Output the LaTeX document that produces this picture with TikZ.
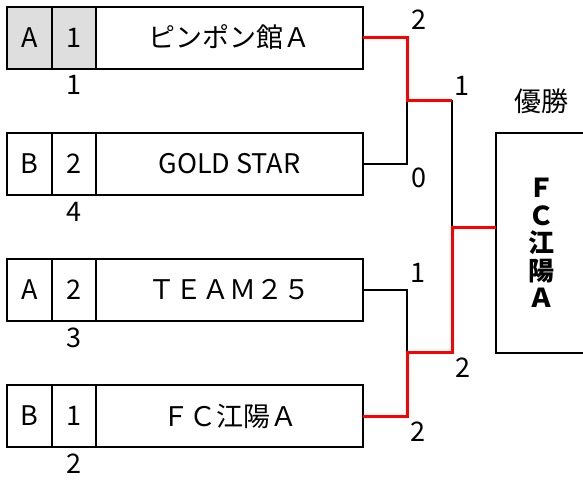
\documentclass[tikz,border=0pt]{standalone}
\usepackage{fontspec}
\setmainfont{Noto Sans CJK JP}
\usetikzlibrary{positioning}

\begin{document}
\begin{tikzpicture}[x=1pt,y=-1pt,line width=2pt,
  every node/.style={font=\fontsize{27}{28}\selectfont,inner sep=0pt,outer sep=0pt},
  cell/.style={draw,minimum height=62pt},
  win/.style={red,line width=3pt}]
\useasboundingbox (0,0) rectangle (583,479);

\foreach \y/\g/\s/\t/\r/\f [count=\i] in
  {37.5/A/1/ピンポン館Ａ/1/black!13,
   164/B/2/GOLD STAR/4/white,
   289.5/A/2/ＴＥＡＭ２５/3/white,
   416/B/1/ＦＣ江陽Ａ/2/white}
{
  \node (g\i) [cell,fill=\f,minimum width=45pt] at (29.5,\y) {\g};
  \node (s\i) [cell,fill=\f,minimum width=44pt,right=0pt of g\i] {\s};
  \node (t\i) [cell,minimum width=267pt,right=0pt of s\i] {\t};
  \node (r\i) [below=7pt of s\i] {\r};
}

\coordinate (m1) at (407,100);
\coordinate (m2) at (407,352);
\coordinate (f) at (452,227);

\node (champ) [draw,anchor=north west,minimum width=90pt,minimum height=220pt,
  align=center,font=\fontsize{26}{27.5}\selectfont\bfseries] at (496,133)
  {Ｆ\\Ｃ\\江\\陽\\Ａ};
\node (yusho) [above=19pt of champ] {優勝};

\draw (t2.east) -| (m1);
\draw (t3.east) -| (m2);
\draw (m1 -| f) -- (f);
\draw[win] (t1.east) -| (m1) -- (m1 -| f);
\draw[win] (t4.east) -| (m2) -| (f) -- (f -| champ.west);

\foreach \x/\y/\v [count=\i] in
  {419/20/2,419/178/0,462/86/1,418/273/1,463/368/2,418/432/2}
  \node (p\i) at (\x,\y) {\v};
\end{tikzpicture}
\end{document}
